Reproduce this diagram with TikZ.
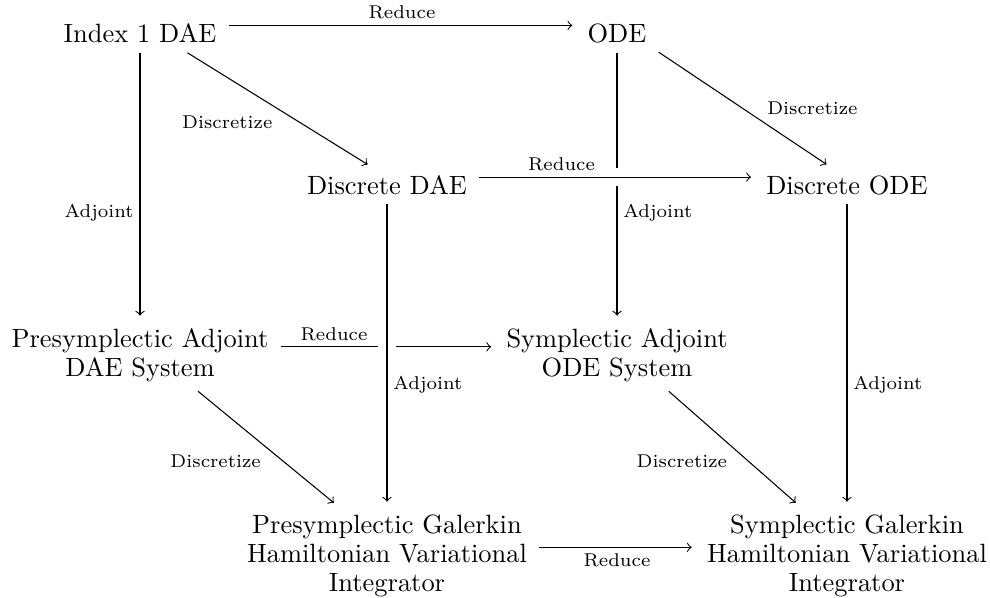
\documentclass[tikz,border=0pt]{standalone}

\begin{document}
\begin{tikzpicture}[
    box/.style={align=center, font={\fontsize{10}{11}\selectfont}, inner xsep=4.4pt, inner ysep=3.4pt},
    lbl/.style={font=\scriptsize, inner sep=2.2pt},
    arr/.style={->, shorten >=1.2pt},
    over/.style={preaction={draw=white, line width=7pt, -}}
  ]
  \useasboundingbox (0,0) rectangle (13.165,-7.939);
  \node[box] (idx) at (1.862,-0.447) {Index 1 DAE};
  \node[box] (ode) at (8.205,-0.447) {ODE};
  \node[box] (ddae) at (5.146,-2.464) {Discrete DAE};
  \node[box] (dode) at (11.263,-2.464) {Discrete ODE};
  \node[box] (padj) at (1.862,-4.721) {Presymplectic Adjoint\\DAE System};
  \node[box] (sadj) at (8.205,-4.721) {Symplectic Adjoint\\ODE System};
  \node[box] (pgal) at (5.146,-7.387) {Presymplectic Galerkin\\Hamiltonian Variational\\Integrator};
  \node[box] (sgal) at (11.263,-7.387) {Symplectic Galerkin\\Hamiltonian Variational\\Integrator};

  % back face
  \draw[arr] ([yshift=3.1pt]idx.east) -- node[lbl, above] {Reduce} ([yshift=3.1pt]ode.west);
  \draw[arr] (idx) -- node[lbl, left, pos=0.6] {Adjoint} (padj);
  \draw[arr] (ode) -- node[lbl, right, pos=0.6] {Adjoint} (sadj);
  \draw[arr] ([yshift=3.1pt]padj.east) -- node[lbl, above, pos=0.25] {Reduce} ([yshift=3.1pt]sadj.west);

  % discretize
  \draw[arr] (idx.-22.5) -- node[lbl, below left] {Discretize} (ddae.131);
  \draw[arr] (ode.-24.5) -- node[lbl, above right, pos=0.6] {Discretize} (dode.133);
  \draw[arr] (padj.-32.5) -- node[lbl, below left] {Discretize} (pgal.135);
  \draw[arr] (sadj.-35) -- node[lbl, below left] {Discretize} (sgal.134);

  % front face
  \draw[arr, over] ([yshift=3.1pt]ddae.east) -- node[lbl, above, pos=0.3] {Reduce} ([yshift=3.1pt]dode.west);
  \draw[arr, over] (ddae) -- node[lbl, right, pos=0.6] {Adjoint} (pgal);
  \draw[arr] (dode) -- node[lbl, right, pos=0.6] {Adjoint} (sgal);
  \draw[arr] ([yshift=3.1pt]pgal.east) -- node[lbl, below] {Reduce} ([yshift=3.1pt]sgal.west);
\end{tikzpicture}
\end{document}
